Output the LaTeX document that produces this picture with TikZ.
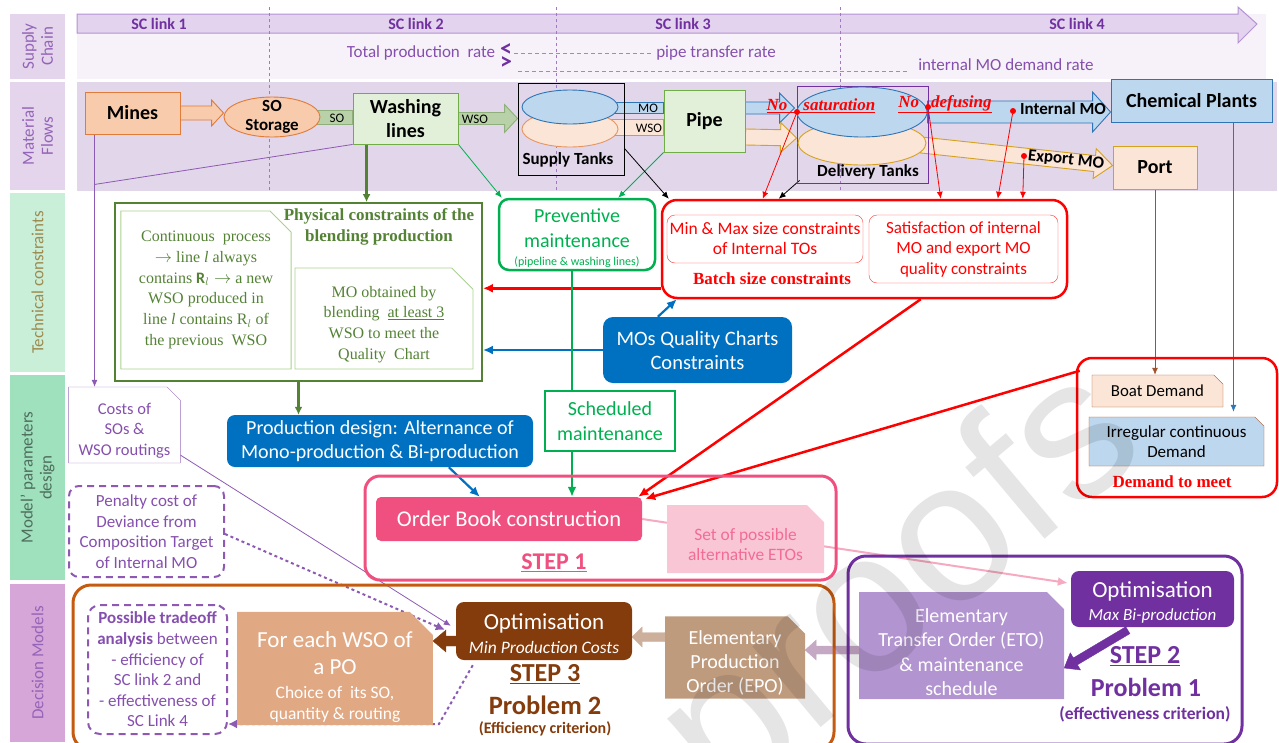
\documentclass[tikz,border=0pt]{standalone}
\usepackage{fontspec}
\setmainfont{Carlito}
\newfontfamily\tnr{Liberation Serif}
\newfontfamily\wmark{Liberation Sans}
\usetikzlibrary{calc,arrows.meta,shapes.geometric,shapes.misc}
\definecolor{bandlab}{HTML}{E4D5EC}
\definecolor{scband}{HTML}{F7F2F9}
\definecolor{mfband}{HTML}{E2D6EB}
\definecolor{scarrow}{HTML}{E3D3EE}
\definecolor{scedge}{HTML}{B592D2}
\definecolor{purp}{HTML}{7030A0}
\definecolor{peach}{HTML}{F8CBAD}
\definecolor{orng}{HTML}{E07B39}
\definecolor{lpeach}{HTML}{FBE5D6}
\definecolor{gold}{HTML}{D6A21E}
\definecolor{lgreen}{HTML}{E2EFD9}
\definecolor{mgreen}{HTML}{70AD47}
\definecolor{sofill}{HTML}{B9D1A8}
\definecolor{soedge}{HTML}{8FB07A}
\definecolor{lblue}{HTML}{BDD7EE}
\definecolor{mblue}{HTML}{2E75B6}
\definecolor{olive}{HTML}{548235}
\definecolor{paleolive}{HTML}{A9D18E}
\definecolor{bgreen}{HTML}{00B050}
\definecolor{dblue}{HTML}{0070C0}
\definecolor{pink}{HTML}{F0507F}
\definecolor{ppink}{HTML}{F9C6D6}
\definecolor{pinktxt}{HTML}{F26C96}
\definecolor{pinkline}{HTML}{F6A9C0}
\definecolor{techlab}{HTML}{C9EFD9}
\definecolor{modlab}{HTML}{9FE0BD}
\definecolor{declab}{HTML}{D7A6D8}
\definecolor{techtxt}{HTML}{9E8A4E}
\definecolor{modtxt}{HTML}{4E6E5E}
\definecolor{brownbox}{HTML}{843C0C}
\definecolor{rust}{HTML}{C55A11}
\definecolor{tanbox}{HTML}{E0A883}
\definecolor{epofill}{HTML}{BF9B7E}
\definecolor{etofill}{HTML}{B294D0}
\definecolor{epoarrow}{HTML}{CDB09C}
\definecolor{etoarrow}{HTML}{C4A8C4}
\definecolor{boatedge}{HTML}{A0522D}
\pgfdeclarelayer{back}
\pgfdeclarelayer{bg}
\pgfdeclarelayer{front}
\pgfsetlayers{back,bg,main,front}
\newcommand\fs[2]{\fontsize{#1}{#2}\selectfont}
\newcommand\flowarrow[6][]{%
  \coordinate (fa-s) at #2;
  \coordinate (fa-e) at #3;
  \coordinate (fa-h) at ($(fa-e)!#6!(fa-s)$);
  \filldraw[#1] ($(fa-s)!#4!90:(fa-e)$) -- ($(fa-h)!#4!90:(fa-e)$) -- ($(fa-h)!#5!90:(fa-e)$) -- (fa-e)
    -- ($(fa-h)!#5!-90:(fa-e)$) -- ($(fa-h)!#4!-90:(fa-e)$) -- ($(fa-s)!#4!-90:(fa-e)$) -- cycle;}
\tikzset{
  snip/.style={chamfered rectangle, chamfered rectangle corners=north east, chamfered rectangle xsep=#1},
  snip/.default=14pt,
  conn/.style={-{Latex[length=7pt,width=6pt]}, line width=0.8},
  bigtip/.style={-{Latex[length=10pt,width=9pt]}},
}

\begin{document}
\begin{tikzpicture}[x=1pt,y=-1pt,
  lab/.style={rotate=90, minimum height=55, inner sep=0, align=center, font=\fs{17}{19}},
  sclink/.style={font=\bfseries\fs{16}{16}, text=purp},
  rate/.style={font=\fs{17}{17}, text=purp!85, inner sep=0},
  ratedash/.style={purp!60, dash pattern=on 4pt off 3pt, line width=0.8},
  matbox/.style={draw, line width=0.9, font=\bfseries\fs{20}{24}, align=center, inner sep=0},
  tank/.style={ellipse, draw, line width=0.9, inner sep=0},
  flowlab/.style={font=\fs{13}{13}, inner sep=0},
  tanklab/.style={font=\bfseries\fs{17}{17}, inner sep=0},
  redital/.style={font=\tnr\bfseries\itshape\fs{17}{17}, text=red, inner sep=0},
  dot/.style={circle, fill=red, inner sep=0, minimum size=6},
  serifbox/.style={snip=18pt, draw=paleolive, line width=0.9, font=\tnr\fs{16}{20.7}, text=olive, align=center, inner sep=0},
  redbox/.style={draw=red, rounded corners=15, line width=2.5},
  fillbox/.style={rounded corners=8, text=white, align=center, inner sep=0},
  redthick/.style={red, line width=2.5, bigtip},
]
\useasboundingbox (0,0) rectangle (1279,742);

\node[lab, fill=bandlab, text=purp!75, minimum width=65] (labsc) at (37.5,46.5) {Supply\\Chain};
\node[lab, fill=bandlab, text=purp!75, minimum width=108] (labmf) at (37.5,136) {Material\\Flows};
\node[lab, fill=techlab, text=techtxt, minimum width=179] (labtc) at (37.5,282.5) {Technical constraints};
\node[lab, fill=modlab, text=modtxt, minimum width=205] (labmp) at (37.5,477.5) {Model’ parameters\\design};
\node[lab, fill=declab, text=purp!75, minimum width=158] (labdm) at (37.5,663) {Decision Models};

\begin{pgfonlayer}{back}
\fill[scband] (77,14) rectangle (1266,79);
\fill[mfband] (77,82) rectangle (1277,191);
\filldraw[fill=scarrow, draw=scedge, line width=1] (77,14) -- (1238,14) -- (1238,7) -- (1257,24) -- (1238,43) -- (1238,33) -- (77,33) -- cycle;
\foreach \x in {269,556,840}
  \draw[purp!65, dashed, line width=0.8] (\x,7) -- (\x,191);
\end{pgfonlayer}

\node[sclink] (sc1) at (159,24) {SC link 1};
\node[sclink] (sc2) at (416,24) {SC link 2};
\node[sclink] (sc3) at (683,24) {SC link 3};
\node[sclink] (sc4) at (1077,24) {SC link 4};
\node[rate] (totrate) at (421,53) {Total production\ \ rate};
\node[font=\bfseries\fs{24}{24}, text=purp, inner sep=0] (ltsign) at (506,50) {<};
\node[font=\bfseries\fs{24}{24}, text=purp, inner sep=0] (gtsign) at (506,63) {>};
\node[rate] (piperate) at (716,53) {pipe transfer rate};
\node[rate] (demrate) at (1006,65) {internal MO demand rate};
\draw[ratedash] ($(ltsign.east)+(2,3)$) -- ($(piperate.west)+(-3,0)$);
\draw[ratedash] ($(gtsign.east)+(6,8)$) -- ($(demrate.west)+(-11,6)$);

\node[matbox, fill=peach, draw=orng, minimum width=95, minimum height=42] (mines) at (132.5,113) {Mines};
\node[tank, fill=peach, draw=orng, minimum width=96, minimum height=40] (sostore) at (272,117) {};
\node[font=\bfseries\fs{17}{19}, align=center, inner sep=0] (sostorelab) at (sostore.center) {SO\\Storage};
\node[matbox, fill=lgreen, draw=mgreen, minimum width=105, minimum height=51] (washing) at (405.5,118.5) {Washing\\lines};
\node[draw, line width=0.9, minimum width=106, minimum height=92, inner sep=0] (stank) at (571,129) {};
\node[tank, fill=lpeach, draw=orng!80, minimum width=96, minimum height=36] (stwso) at (570,129) {};
\node[tank, fill=lblue, draw=mblue, minimum width=96, minimum height=34] (stmo) at (570,107) {};
\node[tanklab] (stlab) at (568,160) {Supply Tanks};
\node[matbox, fill=lgreen, draw=mgreen, minimum width=81, minimum height=62] (pipe) at (704.5,121) {Pipe};
\node[draw=purp, line width=0.9, minimum width=131, minimum height=97, inner sep=0] (dtank) at (862.5,134.5) {};
\node[tank, fill=lpeach, draw=gold, minimum width=128, minimum height=44] (dtwso) at (862,143) {};
\node[tank, fill=lblue, draw=mblue, minimum width=130, minimum height=50] (dtmo) at (862,112) {};
\node[tanklab] (dtlab) at (868,172) {Delivery Tanks};
\node[matbox, fill=lblue, draw=mblue, minimum width=161, minimum height=43] (chem) at (1191.5,100.5) {Chemical Plants};
\node[matbox, fill=lpeach, draw=gold, minimum width=84, minimum height=43] (port) at (1155,167.5) {Port};

\node[flowlab] (solab) at (337,118) {SO};
\node[flowlab] (wsolab) at (475,119) {WSO};
\node[flowlab] (molab) at (648,108) {MO};
\node[flowlab] (wsolabb) at (649,128) {WSO};
\node[redital] (nosat) at (821,106) {\underline{No\hspace{16pt}saturation}};
\node[redital] (nodef) at (945,104) {\underline{No\hspace{12pt}defusing}};
\node[dot] (dsat) at (797,112) {};
\node[dot] (ddef) at (928,107) {};
\node[dot] (dint) at (1013,111) {};
\node[dot] (dexp) at (1024,156) {};
\node[tanklab] (intmo) at (1063,109) {Internal MO};
\node[tanklab, rotate=-6] (expmo) at (1066,160) {Export MO};

\node[draw=olive, line width=1.8, minimum width=367, minimum height=178] (phys) at (298.5,292) {};
\node[font=\tnr\bfseries\fs{17}{21}, text=olive, align=center, inner sep=0] (phystitle) at (379,227) {Physical constraints of the\\blending production};
\node[serifbox, minimum width=152, minimum height=158] (contbox) at (206,290) {Continuous\ \ process\\$\rightarrow$ line \textit{l} always\\contains $\mathbf{R}_l\rightarrow$ a new\\WSO produced in\\line \textit{l} contains R$_l$ of\\the previous\ \ WSO};
\node[serifbox, minimum width=178, minimum height=101] (blendbox) at (384,318.5) {\rule{0pt}{23pt}MO obtained by\\blending \ \underline{at least 3}\\WSO to meet the\\Quality\ \ Chart};
\node[draw=bgreen, line width=2.5, rounded corners=10, minimum width=156, minimum height=71, text=bgreen, font=\fs{20}{25}, align=center, inner sep=0] (prev) at (577,234.5) {\rule{0pt}{21pt}Preventive\\maintenance\\[-7pt]\fs{12}{14}(pipeline \& washing lines)};
\node[redbox, minimum width=405, minimum height=98] (batch) at (864.5,249) {};
\node[draw=red!80, rounded corners=8, minimum width=196, minimum height=48, text=red, font=\fs{17.5}{20}, align=center, inner sep=0] (minmax) at (765,239) {Min \& Max size constraints\\of Internal TOs};
\node[draw=red!80, rounded corners=8, minimum width=189, minimum height=68, text=red, font=\fs{17}{20.5}, align=center, inner sep=0] (satis) at (963.5,249) {Satisfaction of internal\\MO and export MO\\quality constraints};
\node[font=\tnr\bfseries\fs{17}{17}, text=red, inner sep=0] (batchtitle) at (772,279) {Batch size constraints};
\node[fillbox, fill=dblue, rounded corners=10, minimum width=189, minimum height=66, font=\fs{20.5}{24}] (mos) at (697.5,350) {MOs Quality Charts\\Constraints};

\node[draw=purp!70, snip=10pt, minimum width=103, minimum height=76, text=purp!85, font=\fs{16.5}{20.5}, align=center, inner sep=0] (costs) at (124.5,425) {\rule{0pt}{22pt}Costs of\\SOs \&\\WSO routings};
\node[fillbox, fill=dblue, minimum width=306, minimum height=52, font=\fs{20}{24}] (prod) at (380,441) {Production design: Alternance of\\Mono-production \& Bi-production};
\node[draw=bgreen, line width=2, fill=white, minimum width=130, minimum height=60, text=bgreen, font=\fs{20}{25}, align=center, inner sep=0] (sched) at (610,421) {Scheduled\\maintenance};
\node[draw=purp!80, dash pattern=on 7pt off 5pt, line width=2, rounded corners=10, minimum width=155, minimum height=91, text=purp!85, font=\fs{17}{20.5}, align=center, inner sep=0] (penalty) at (146.5,531.5) {Penalty cost of\\Deviance from\\Composition Target\\of Internal MO};
\node[draw=pink, line width=3, rounded corners=15, minimum width=471, minimum height=104] (obook) at (600.5,528) {};
\node[fillbox, fill=pink, rounded corners=5, minimum width=266, minimum height=44, font=\fs{22.5}{24}] (obin) at (509,519) {Order\ Book construction};
\node[text=pink, font=\bfseries\fs{24}{24}, inner sep=0] (step1) at (554,563) {\underline{STEP 1}};
\node[snip, fill=ppink, minimum width=157, minimum height=68, text=pinktxt, font=\fs{17.4}{20}, align=center, inner sep=0] (etoset) at (745.5,539) {\rule{0pt}{23pt}Set of possible\\alternative ETOs};
\node[redbox, minimum width=200, minimum height=139] (demand) at (1177,427.5) {};
\node[snip=6pt, fill=lpeach, draw=boatedge, minimum width=131, minimum height=32, font=\fs{16.8}{18}, inner sep=0] (boat) at (1157.5,391) {Boat Demand};
\node[snip=6pt, fill=lblue, draw=boatedge, minimum width=175, minimum height=49, font=\fs{17}{20}, align=center, inner sep=0] (irreg) at (1176.5,441.5) {Irregular continuous\\Demand};
\node[font=\tnr\bfseries\fs{17}{17}, text=red, inner sep=0] (dmeet) at (1172,482) {Demand to meet};

\node[draw=rust, line width=3, rounded corners=18, minimum width=761, minimum height=165] (step3box) at (453.5,667.5) {};
\node[draw=purp!80, dash pattern=on 7pt off 5pt, line width=2, rounded corners=12, minimum width=139, minimum height=129, text=purp!85, font=\fs{17}{20.6}, align=center, inner sep=0] (tradeoff) at (157.5,669.5) {\textbf{Possible tradeoff}\\\textbf{analysis} between\\- efficiency of\\SC link 2 and\\- effectiveness of\\SC Link 4};
\node[snip=20pt, fill=tanbox, minimum width=188, minimum height=107, text=white, font=\fs{23}{27}, align=center, inner sep=0] (foreach) at (335,668.5) {\rule{0pt}{32pt}For each WSO of\\a PO\\[-3pt]\fs{17.5}{21}Choice of\ \ its SO,\\[-6pt]\fs{17.5}{21}quantity\ \& routing};
\node[fillbox, fill=brownbox, minimum width=176, minimum height=58, font=\fs{23}{24}] (opt3) at (544,631) {\rule{0pt}{21pt}Optimisation\\\fs{17.5}{20}\itshape Min Production\ Costs};
\node[text=brownbox, font=\bfseries\fs{26}{26}, inner sep=0] (step3) at (545,674) {\underline{STEP 3}};
\node[text=brownbox, font=\bfseries\fs{26.5}{27}, inner sep=0] (prob2) at (545,705) {Problem 2};
\node[text=brownbox, font=\bfseries\fs{16}{16}, inner sep=0] (crit2) at (545,729) {(Efficiency criterion)};
\node[snip, fill=epofill, minimum width=140, minimum height=81, text=white, font=\fs{20}{24}, align=center, inner sep=0] (epo) at (735,657.5) {\rule{0pt}{25pt}Elementary\\Production\\Order (EPO)};
\node[draw=purp, line width=3, rounded corners=18, minimum width=394, minimum height=188] (step2box) at (1045,650) {};
\node[snip, fill=etofill, minimum width=205, minimum height=105, text=white, font=\fs{20}{24.5}, align=center, inner sep=0] (eto) at (961.5,645.5) {\rule{0pt}{27pt}Elementary\\Transfer Order (ETO)\\\&\ maintenance\\schedule};
\node[fillbox, fill=purp, minimum width=163, minimum height=56, font=\fs{23}{23}] (opt2) at (1152.5,599) {\rule{0pt}{22pt}Optimisation\\\fs{17}{20}\itshape Max Bi-production};
\node[text=purp, font=\bfseries\fs{26}{26}, inner sep=0] (step2) at (1145,656) {\underline{STEP 2}};
\node[text=purp, font=\bfseries\fs{26}{27}, inner sep=0] (prob1) at (1146,687) {Problem 1};
\node[text=purp, font=\bfseries\fs{17.5}{18}, inner sep=0] (crit1) at (1145,714) {(effectiveness criterion)};

\begin{pgfonlayer}{bg}
\flowarrow[fill=peach, draw=orng, line width=0.9]{(mines.east)}{(mines.east -| sostore.west)}{7pt}{13pt}{12pt}
\filldraw[fill=sofill, draw=soedge, line width=0.9] ($(sostore.east)+(-4,-7)$) rectangle ($(sostore.east -| washing.west)+(0,7)$);
\flowarrow[fill=sofill, draw=soedge, line width=0.9]{(washing.east)}{(washing.east -| stank.west)}{6pt}{14pt}{13pt}
\filldraw[fill=lblue, draw=mblue, line width=0.9] ($(stmo.east)+(-20,-5)$) rectangle ($(pipe.west |- stmo.east)+(0,6)$);
\filldraw[fill=lpeach, draw=gold, line width=0.9] ($(stwso.east)+(-20,-10)$) rectangle ($(pipe.west |- stwso.east)+(0,6)$);
\flowarrow[fill=lblue, draw=mblue, line width=0.9]{($(pipe.east)+(0,-13)$)}{($(dtank.west)+(-2,-26.5)$)}{6pt}{15pt}{15pt}
\flowarrow[fill=lpeach, draw=gold, line width=0.9]{($(pipe.east)+(0,16)$)}{($(dtank.west)+(0,3.5)$)}{8pt}{15pt}{16pt}
\flowarrow[fill=lblue, draw=mblue, line width=0.9]{(dtmo.east)}{(dtmo.east -| chem.west)}{11pt}{20pt}{18pt}
\flowarrow[fill=lpeach, draw=gold, line width=0.9]{($(dtwso.east)+(-5,2)$)}{($(port.west)+(0,-2)$)}{8pt}{15pt}{18pt}

\coordinate (mdrop) at ($(mines.south west)+(10,0)$);
\draw[purp!80, conn] (mdrop) -- (mdrop |- costs.north);
\draw[purp!80, line width=0.8] (washing.south west) -- ($(mdrop)+(0,50)$);
\coordinate (wdrop) at ($(washing.south west)+(14,0)$);
\draw[olive, line width=2.2, -{Latex[length=8pt,width=8pt]}] (wdrop) -- (wdrop |- phys.north);
\draw[bgreen, conn] (washing.south east) -- ($(prev.north west)+(4,0)$);
\draw[bgreen, conn] (pipe.south west) -- ($(prev.north east)+(-38,0)$);
\draw[black, conn] ($(stank.south east)+(0,-27)$) -- ($(batch.north west)+(8,0)$);
\draw[black, conn] ($(dtank.south west)+(3,-3)$) -- ($(batch.north west)+(118,0)$);
\draw[red, conn] (dsat) -- ($(batch.north west)+(102,0)$);
\draw[red, conn] (ddef) -- ($(batch.north west)+(280,0)$);
\draw[red, conn] (dint) -- ($(batch.north west)+(337,0)$);
\draw[red, conn] (dexp) -- ($(batch.north west)+(362,0)$);

\coordinate (bw) at ($(batch.south west)+(0,-11)$);
\draw[redthick] (bw) -- (bw -| phys.east);
\draw[dblue, line width=2.2, bigtip] (mos.west) -- (mos.west -| phys.east);
\draw[dblue, line width=2.2, bigtip] ($(mos.north west)+(55,0)$) -- ($(batch.south west)+(16,0)$);
\draw[olive, line width=2.2, -{Latex[length=8pt,width=8pt]}] (phys.south) -- (phys.south |- prod.north);
\draw[dblue, line width=2.2, bigtip] ($(prod.south west)+(222,0)$) -- ($(obin.north west)+(104,0)$);
\coordinate (gdrop) at ($(prev.south)+(-5,0)$);
\draw[bgreen, line width=2] (gdrop) -- (gdrop |- sched.north);
\draw[bgreen, line width=2, bigtip] (gdrop |- sched.south) -- (gdrop |- obin.north);
\draw[redthick] ($(batch.south west)+(260,0)$) -- ($(obin.north east)+(-4,0)$);
\draw[redthick] ($(demand.north west)+(4,14)$) -- ($(obin.north east)+(3,2)$);
\draw[boatedge, conn] (port.south) -- (port.south |- boat.north);
\coordinate (cdrop) at ($(chem.south east)+(-39,0)$);
\draw[mblue, conn] (cdrop) -- ($(cdrop |- irreg.north)+(0,-5)$);

\draw[purp!80, conn] ($(costs.south east)+(0,-8)$) -- ($(opt3.north west)+(-5,24)$);
\draw[purp!80, dashed, line width=2, -{Latex[length=9pt,width=9pt]}] ($(penalty.east)+(0,2.5)$) -- ($(opt3.north west)+(-11,28)$);
\draw[purp!80, dashed, line width=2, -{Latex[length=9pt,width=9pt]}] ($(opt3.south west)+(17,5)$) -- ($(opt3.south west)+(-17,64)$) -- ($(tradeoff.east)+(0,54.5)$);
\draw[pinkline, line width=2, bigtip] (obin.east) -- ($(opt2.west)+(-3,-16)$);

\flowarrow[fill=brownbox, draw=brownbox]{($(opt3.west)+(0,10)$)}{($(foreach.east)+(0,-27.5)$)}{5pt}{11pt}{13pt}
\flowarrow[fill=epoarrow, draw=epoarrow]{($(epo.west)+(0,-20.5)$)}{($(opt3.east)+(0,6)$)}{4.5pt}{10pt}{10pt}
\flowarrow[fill=etoarrow, draw=etoarrow]{($(eto.west)+(0,4.5)$)}{($(epo.east)+(0,-7.5)$)}{4pt}{10pt}{11pt}
\flowarrow[fill=purp, draw=purp]{($(opt2.south west)+(57,3)$)}{($(eto.east)+(0,22.5)$)}{4pt}{10pt}{13pt}
\end{pgfonlayer}

\begin{pgfonlayer}{front}
\node[rotate=40, text=black, opacity=0.1, font=\wmark\fs{200}{200}, inner sep=0] (wm) at (905,590) {proofs};
\end{pgfonlayer}
\end{tikzpicture}
\end{document}
